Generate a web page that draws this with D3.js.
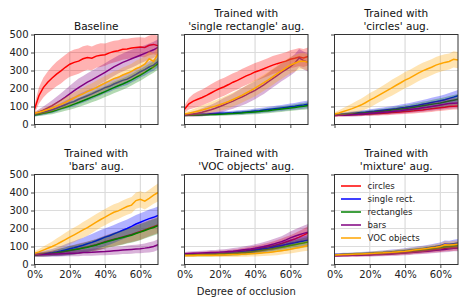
<!DOCTYPE html>
<html><head><meta charset="utf-8">
<script src="https://cdn.jsdelivr.net/npm/d3@7"></script>
<style>body{margin:0;background:#fff}svg{display:block;font-family:"DejaVu Sans",sans-serif}</style>
</head><body><svg id="c" width="470" height="305"></svg>
<script>
// ---- data ----
const occlusion = [0,2.5,5,7.5,10,12.5,15,17.5,20,22.5,25,27.5,30,32.5,35,37.5,40,42.5,45,47.5,50,52.5,55,57.5,60,62.5,65,67.5,70];
const xTicks = [0,20,40,60];
const yTicks = [0,100,200,300,400,500];
const seriesNames = ["circles","single rect.","rectangles","bars","VOC objects"];
const panelTitles = [
  ["Baseline"],
  ["Trained with","'single rectangle' aug."],
  ["Trained with","'circles' aug."],
  ["Trained with","'bars' aug."],
  ["Trained with","'VOC objects' aug."],
  ["Trained with","'mixture' aug."]
];
// mean values per panel, series order: circles, single rect., rectangles, bars, VOC objects
const baselineMean = [
  [85,160,205,235,258,280,298,318,335,345,352,365,372,368,380,385,388,398,405,410,418,420,425,428,430,428,440,445,438],
  [55,60,68,75,82,90,100,110,120,128,140,150,160,170,182,192,205,212,225,235,245,252,265,278,293,305,320,330,350],
  [52,57,62,67,72,80,88,96,104,113,122,132,142,152,162,172,183,194,205,215,225,236,248,262,275,290,305,320,338],
  [60,70,80,92,105,120,135,152,170,188,205,220,235,248,262,276,290,305,320,333,345,355,365,375,385,395,405,415,428],
  [62,68,75,83,92,102,112,123,135,148,160,170,183,193,205,218,230,242,255,262,275,285,295,310,320,335,365,350,392]
];
const baselineStd = [
  [25,45,55,60,65,68,70,70,70,72,70,70,68,66,65,66,62,60,60,58,58,56,55,56,55,54,55,55,55],
  [10,12,15,16,18,19,20,22,25,26,28,29,30,30,30,31,32,32,32,32,32,33,32,32,32,33,32,32,32],
  [8,10,12,13,15,16,18,20,22,24,25,27,28,29,30,30,30,31,32,32,32,32,32,32,32,32,32,32,32],
  [10,15,20,25,30,34,38,42,45,48,50,50,50,50,50,50,50,50,50,50,50,50,50,48,45,45,45,45,45],
  [10,12,15,18,20,22,25,28,30,31,32,33,35,36,38,39,40,40,40,41,42,42,42,44,45,45,45,45,45]
];
const singleRectMean = [
  [85,115,130,140,150,162,175,188,200,210,222,235,245,258,270,280,292,300,310,320,330,338,345,352,362,368,375,370,378],
  [55,56,57,57,58,59,60,61,62,63,64,65,67,68,70,72,75,77,80,83,86,89,92,95,98,101,105,108,112],
  [50,51,52,52,53,54,55,56,57,58,60,61,63,64,66,68,70,72,75,77,80,83,86,89,92,95,98,101,105],
  [52,55,58,63,68,75,82,90,100,110,120,130,142,153,165,178,190,205,220,238,255,272,290,305,322,340,370,355,345],
  [58,63,68,74,80,87,95,102,110,119,128,139,150,162,175,188,202,217,232,248,265,282,298,315,330,340,350,352,345]
];
const singleRectStd = [
  [20,32,40,43,45,46,48,49,50,50,50,50,50,50,50,50,50,50,50,50,50,50,50,50,50,50,50,50,50],
  [5,5,6,6,7,7,8,9,10,10,10,11,12,12,12,13,14,14,15,15,16,16,17,17,18,19,20,21,22],
  [5,5,6,6,7,7,8,8,9,9,10,10,11,11,12,12,13,13,14,14,15,15,16,16,17,17,18,19,20],
  [8,12,15,18,22,25,28,31,35,38,40,42,45,48,50,50,50,50,50,50,50,50,50,50,50,50,50,50,50],
  [10,14,18,22,25,28,30,33,35,37,38,39,40,41,42,44,45,45,45,45,45,45,45,45,45,45,45,45,45]
];
const circlesMean = [
  [50,51,52,53,54,55,56,57,58,60,61,63,64,66,68,70,72,74,76,79,81,84,87,90,93,96,100,102,103],
  [55,56,58,60,62,64,66,68,71,73,76,79,82,85,88,92,95,99,103,107,112,117,122,127,132,138,145,152,160],
  [53,54,56,57,59,61,63,65,67,69,72,74,77,80,83,86,89,92,96,100,104,108,112,116,120,125,130,135,140],
  [50,51,52,53,55,56,58,60,62,64,66,68,70,72,75,77,80,83,86,89,93,96,100,104,108,112,116,118,120],
  [58,64,72,80,88,98,108,121,135,148,162,176,190,204,218,232,247,258,272,285,298,308,318,330,338,345,350,362,358]
];
const circlesStd = [
  [6,6,7,7,8,8,9,9,10,10,11,11,12,12,13,13,14,14,15,15,16,16,17,17,18,18,19,19,20],
  [6,7,8,9,10,11,12,13,14,14,15,15,16,17,18,19,20,21,22,23,24,25,26,27,28,29,30,31,32],
  [6,7,8,9,10,11,12,12,13,13,14,14,15,15,16,17,18,19,20,21,22,23,24,25,26,27,28,29,30],
  [6,7,8,9,10,11,12,12,13,13,14,14,15,15,16,17,18,19,20,21,22,23,24,25,26,27,28,29,30],
  [10,15,20,24,28,32,35,38,40,40,40,41,42,44,45,45,45,45,45,45,45,45,45,45,45,45,45,45,45]
];
const barsMean = [
  [53,55,57,59,62,66,70,74,79,83,88,93,98,104,110,118,126,133,140,146,153,160,167,175,183,192,202,210,220],
  [55,57,60,63,66,70,75,81,87,93,100,107,115,123,132,142,152,160,170,180,190,200,212,225,235,245,255,262,272],
  [53,55,57,59,62,66,70,74,78,82,86,91,96,102,108,116,124,131,138,144,150,157,163,172,180,189,198,206,215],
  [55,55,56,57,58,59,60,61,62,63,64,66,67,68,70,71,72,74,76,78,80,82,84,86,88,91,95,100,110],
  [62,70,80,90,100,112,125,138,152,165,178,192,205,220,235,250,263,277,290,298,310,322,330,355,362,352,368,385,400]
];
const barsStd = [
  [8,10,12,13,15,17,20,22,25,27,28,29,30,31,32,34,35,36,38,39,40,41,42,44,45,45,45,45,45],
  [10,12,15,18,20,24,28,31,35,38,40,42,45,46,48,49,50,50,50,50,50,50,50,50,50,50,50,50,50],
  [8,10,12,13,15,17,20,22,25,27,28,29,30,31,32,34,35,36,38,39,40,41,42,44,45,45,45,45,45],
  [10,11,12,13,14,14,15,15,16,17,18,18,18,19,20,20,20,21,22,22,22,23,24,24,25,26,28,29,30],
  [12,16,20,24,28,32,35,38,40,41,42,44,45,45,45,45,45,45,45,45,45,45,45,45,45,46,47,48,50]
];
const vocMean = [
  [55,56,57,58,59,60,61,62,63,64,66,68,70,73,76,80,84,88,93,98,103,110,117,125,133,142,152,163,175],
  [55,55,56,56,57,57,58,59,60,61,63,65,67,70,72,75,79,83,87,91,96,101,106,111,117,121,126,130,135],
  [53,53,54,54,55,55,56,57,58,59,60,61,63,65,67,70,73,76,80,84,88,92,96,100,105,110,115,120,125],
  [60,61,62,63,64,65,66,67,68,70,72,74,77,80,83,86,90,95,100,106,112,120,127,137,148,157,165,173,180],
  [50,50,50,51,51,51,52,52,53,53,54,55,56,57,58,60,61,63,65,67,70,73,77,81,85,90,95,100,105]
];
const vocStd = [
  [10,10,11,11,12,12,13,13,14,14,15,15,16,17,18,19,20,21,22,23,25,26,28,29,30,32,34,36,38],
  [8,8,9,9,10,10,11,11,12,12,13,13,14,14,15,15,16,17,18,19,20,21,22,23,24,25,26,27,28],
  [8,8,9,9,10,10,11,11,12,12,13,13,14,14,15,15,16,17,18,19,20,21,22,23,24,25,26,27,28],
  [10,11,12,12,12,13,14,14,15,15,16,17,18,19,20,21,22,23,25,26,28,29,30,32,35,38,40,42,45],
  [8,8,9,9,10,10,11,11,12,12,13,13,14,14,15,15,16,17,18,19,20,21,22,23,24,25,26,27,28]
];
const mixtureMean = [
  [50,51,52,52,53,54,55,55,56,57,58,60,61,62,64,65,67,69,71,73,76,78,81,83,86,89,92,94,96],
  [55,56,57,57,58,59,60,61,62,63,65,66,68,70,72,74,76,79,82,85,88,92,96,100,104,114,112,116,120],
  [52,53,54,55,56,57,58,59,60,61,62,63,65,66,68,70,72,74,77,79,82,85,88,91,94,97,100,103,106],
  [48,49,50,50,51,51,52,53,54,55,56,57,58,59,61,62,64,66,68,70,72,74,77,79,82,84,87,90,92],
  [53,54,55,56,57,58,59,60,61,62,64,65,67,68,70,72,74,77,80,83,86,89,93,96,100,110,108,110,112]
];
const mixtureStd = [
  [7,7,8,8,8,9,9,9,10,10,10,11,11,11,12,12,12,13,13,13,14,14,15,15,16,16,17,17,18],
  [7,7,8,8,8,9,9,10,10,11,11,12,12,13,13,14,14,15,15,16,16,17,17,18,18,19,20,21,22],
  [7,7,8,8,8,9,9,9,10,10,10,11,11,11,12,12,12,13,13,13,14,14,15,15,16,16,17,17,18],
  [7,7,8,8,8,9,9,9,10,10,10,11,11,11,12,12,12,13,13,13,14,14,15,15,16,16,17,17,18],
  [7,7,8,8,8,9,9,10,10,11,11,12,12,13,13,14,14,15,15,16,16,17,17,18,18,19,20,21,22]
];
const panelMeans = [baselineMean, singleRectMean, circlesMean, barsMean, vocMean, mixtureMean];
const panelStds = [baselineStd, singleRectStd, circlesStd, barsStd, vocStd, mixtureStd];

// ---- drawing ----
const colors = ["red","blue","green","purple","orange"];
const svg = d3.select("#c");
const pw = 123.5, ph = 90;
const lefts = [34.5, 184.5, 334.5];
const tops = [34.5, 174.5];

panelMeans.forEach((means, p) => {
  const col = p % 3, row = Math.floor(p / 3);
  const L = lefts[col], T = tops[row];
  const x = d3.scaleLinear().domain([0,70]).range([L, L+pw]);
  const y = d3.scaleLinear().domain([0,500]).range([T+ph, T]);
  const g = svg.append("g");
  const clipId = "clip" + p;
  g.append("clipPath").attr("id", clipId).append("rect")
    .attr("x", L).attr("y", T).attr("width", pw).attr("height", ph);
  // grid
  g.append("g").selectAll("line").data(xTicks.slice(1)).join("line")
    .attr("x1", d => x(d)).attr("x2", d => x(d)).attr("y1", T).attr("y2", T+ph)
    .attr("stroke", "#dcdcdc").attr("stroke-width", 1.2);
  g.append("g").selectAll("line").data(yTicks.slice(1,-1)).join("line")
    .attr("y1", d => y(d)).attr("y2", d => y(d)).attr("x1", L).attr("x2", L+pw)
    .attr("stroke", "#dcdcdc").attr("stroke-width", 1.2);
  // data
  const plot = g.append("g").attr("clip-path", `url(#${clipId})`);
  means.forEach((m, s) => {
    const sd = panelStds[p][s];
    const pts = occlusion.map((o, i) => ({o, m: m[i], sd: sd[i]}));
    plot.append("path").datum(pts)
      .attr("d", d3.line().x(d => x(d.o)).y(d => y(d.m)))
      .attr("fill", "none").attr("stroke", colors[s]).attr("stroke-width", 1.5);
    plot.append("path").datum(pts)
      .attr("d", d3.area().x(d => x(d.o)).y0(d => y(d.m - d.sd)).y1(d => y(d.m + d.sd)))
      .attr("fill", colors[s]).attr("fill-opacity", 0.3).attr("stroke", "none");
  });
  // axes
  const ya = d3.axisLeft(y).tickValues(yTicks).tickSize(3.5).tickPadding(2.5)
    .tickFormat(col === 0 ? d3.format("d") : () => "");
  const yg = g.append("g").attr("transform", `translate(${L},0)`).call(ya);
  const xa = d3.axisBottom(x).tickValues(xTicks).tickSize(3.5).tickPadding(3)
    .tickFormat(row === 1 ? (d => d + "%") : () => "");
  const xg = g.append("g").attr("transform", `translate(0,${T+ph})`).call(xa);
  [yg, xg].forEach(a => {
    a.select(".domain").remove();
    a.selectAll("text").attr("font-size", 10).attr("fill", "#222").attr("font-family", "DejaVu Sans");
    a.selectAll("line").attr("stroke", "#333").attr("stroke-width", 0.9);
  });
  // frame
  g.append("rect").attr("x", L).attr("y", T).attr("width", pw).attr("height", ph)
    .attr("fill", "none").attr("stroke", "#333").attr("stroke-width", 1);
  // title
  const t = panelTitles[p];
  const cx = L + pw / 2;
  const tg = g.append("text").attr("text-anchor", "middle").attr("font-size", 10.5).attr("fill", "#111");
  if (t.length === 1) {
    tg.append("tspan").attr("x", cx).attr("y", T - 5).text(t[0]);
  } else {
    tg.append("tspan").attr("x", cx).attr("y", T - 18).text(t[0]);
    tg.append("tspan").attr("x", cx).attr("y", T - 5).text(t[1]);
  }
  // legend
  if (p === 5) {
    const lg = g.append("g");
    seriesNames.forEach((n, s) => {
      const yy = T + 11.5 + s * 13;
      lg.append("line").attr("x1", L + 6.5).attr("x2", L + 26.5).attr("y1", yy).attr("y2", yy)
        .attr("stroke", colors[s]).attr("stroke-width", 1.5);
      lg.append("text").attr("x", L + 33).attr("y", yy + 3).attr("font-size", 8.6).attr("fill", "#222").text(n);
    });
  }
});
svg.append("text").attr("x", lefts[1] + pw/2).attr("y", 295).attr("text-anchor", "middle")
  .attr("font-size", 10).attr("fill", "#222").text("Degree of occlusion");
</script></body></html>
